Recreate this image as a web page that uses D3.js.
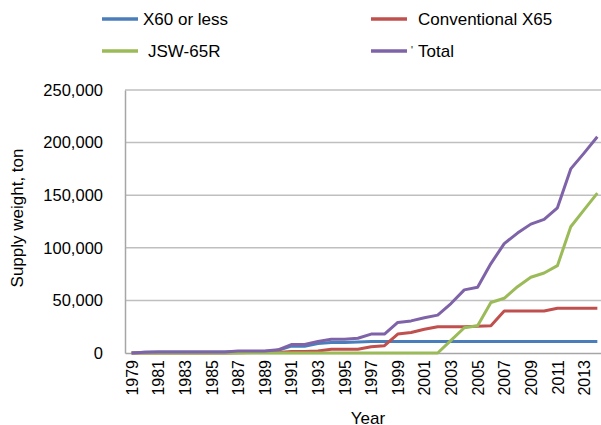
<!DOCTYPE html>
<html>
<head>
<script src="https://d3js.org/d3.v7.min.js"></script>
<style>
body { margin: 0; background: #fff; }
text { font-family: "Liberation Sans", Arial, sans-serif; fill: #000; }
.line { fill: none; stroke-width: 3px; stroke-linejoin: round; }
.grid line { stroke: #bfbfbf; stroke-width: 1.5px; }
.axis path { stroke: #a6a6a6; stroke-width: 1.5px; }
</style>
</head>
<body>
<svg width="601" height="425"></svg>
<script>
const years = d3.range(1979, 2015);
const yearTicks = d3.range(1979, 2014, 2);
const yTicks = [0, 50000, 100000, 150000, 200000, 250000];

const seriesNames = ["X60 or less", "Conventional X65", "JSW-65R", "Total"];
const seriesColors = ["#4a7ebb", "#c0504d", "#9bbb59", "#7f63a8"];

const x60 = [0, 800, 1000, 1000, 1000, 1000, 1000, 1000, 1500, 1500, 1500, 2500,
  6500, 6500, 9000, 10000, 10000, 10500, 11000, 11000, 11000, 11000, 11000, 11000,
  11000, 11000, 11000, 11000, 11000, 11000, 11000, 11000, 11000, 11000, 11000, 11000];
const convX65 = [0, 0, 0, 0, 0, 0, 0, 0, 300, 500, 500, 500,
  1500, 1500, 2000, 3500, 3500, 3500, 6000, 7000, 18000, 19500, 22500, 25000,
  25000, 25000, 25500, 26000, 40000, 40000, 40000, 40000, 42500, 42500, 42500, 42500];
const jsw65r = [0, 0, 0, 0, 0, 0, 0, 0, 0, 0, 0, 0,
  0, 0, 0, 0, 0, 0, 0, 0, 0, 0, 0, 0,
  12000, 24000, 26000, 48000, 52000, 63000, 72000, 76000, 83000, 120000, 136000, 152000];
const total = [0, 800, 1000, 1000, 1000, 1000, 1000, 1000, 2000, 2000, 2000, 3000,
  8000, 8000, 11000, 13000, 13000, 14000, 18000, 18000, 29000, 30500, 33500, 36000,
  47000, 60000, 62500, 85000, 104000, 114000, 122500, 127000, 138000, 175000, 190000, 205500];

// x60 sits under the others, total on top
const series = [x60, convX65, jsw65r, total];

const svg = d3.select("svg");
const plotLeft = 125, plotRight = 604, plotTop = 90, plotBottom = 353;

const x = d3.scalePoint().domain(years).range([plotLeft, plotRight]).padding(0.5);
const y = d3.scaleLinear().domain([0, 250000]).range([plotBottom, plotTop]);

// gridlines
svg.append("g")
  .attr("class", "grid")
  .selectAll("line")
  .data(yTicks.slice(1))
  .enter()
  .append("line")
  .attr("x1", plotLeft).attr("x2", plotRight)
  .attr("y1", d => y(d)).attr("y2", d => y(d));

// y axis
const yAxis = svg.append("g")
  .attr("class", "axis")
  .attr("transform", `translate(${plotLeft},0)`)
  .call(d3.axisLeft(y).tickValues(yTicks).tickSize(0).tickPadding(22).tickFormat(d3.format(",")));
yAxis.selectAll("text").style("font-size", "16.5px");

// x axis
const xAxis = svg.append("g")
  .attr("class", "axis")
  .attr("transform", `translate(0,${plotBottom})`)
  .call(d3.axisBottom(x).tickValues(yearTicks).tickSize(0));
xAxis.selectAll("text")
  .style("font-size", "16px")
  .attr("text-anchor", "end")
  .attr("transform", "rotate(-90)")
  .attr("x", -7)
  .attr("y", 0)
  .attr("dy", "0.35em");

// axis titles
svg.append("text")
  .attr("transform", "translate(23,218) rotate(-90)")
  .attr("text-anchor", "middle")
  .style("font-size", "17px")
  .text("Supply weight, ton");

svg.append("text")
  .attr("x", 368).attr("y", 424)
  .attr("text-anchor", "middle")
  .style("font-size", "17px")
  .text("Year");

// lines
const line = d3.line()
  .x((d, i) => x(years[i]))
  .y(d => y(d));

series.forEach((s, i) => {
  svg.append("path")
    .datum(s)
    .attr("class", "line")
    .attr("stroke", seriesColors[i])
    .attr("d", line);
});

// legend
const legendPos = [[102, 19, 143], [371, 19, 418], [102, 51, 148], [371, 51, 418]];
seriesNames.forEach((name, i) => {
  const [lx, ly, tx] = legendPos[i];
  svg.append("line")
    .attr("x1", lx).attr("x2", lx + 36)
    .attr("y1", ly).attr("y2", ly)
    .attr("stroke", seriesColors[i])
    .attr("stroke-width", 3.5);
  svg.append("text")
    .attr("x", tx).attr("y", ly + 6)
    .style("font-size", "17px")
    .text(name);
});
svg.append("text")
  .attr("x", 411).attr("y", 54)
  .style("font-size", "10px")
  .text("'");
</script>
</body>
</html>
